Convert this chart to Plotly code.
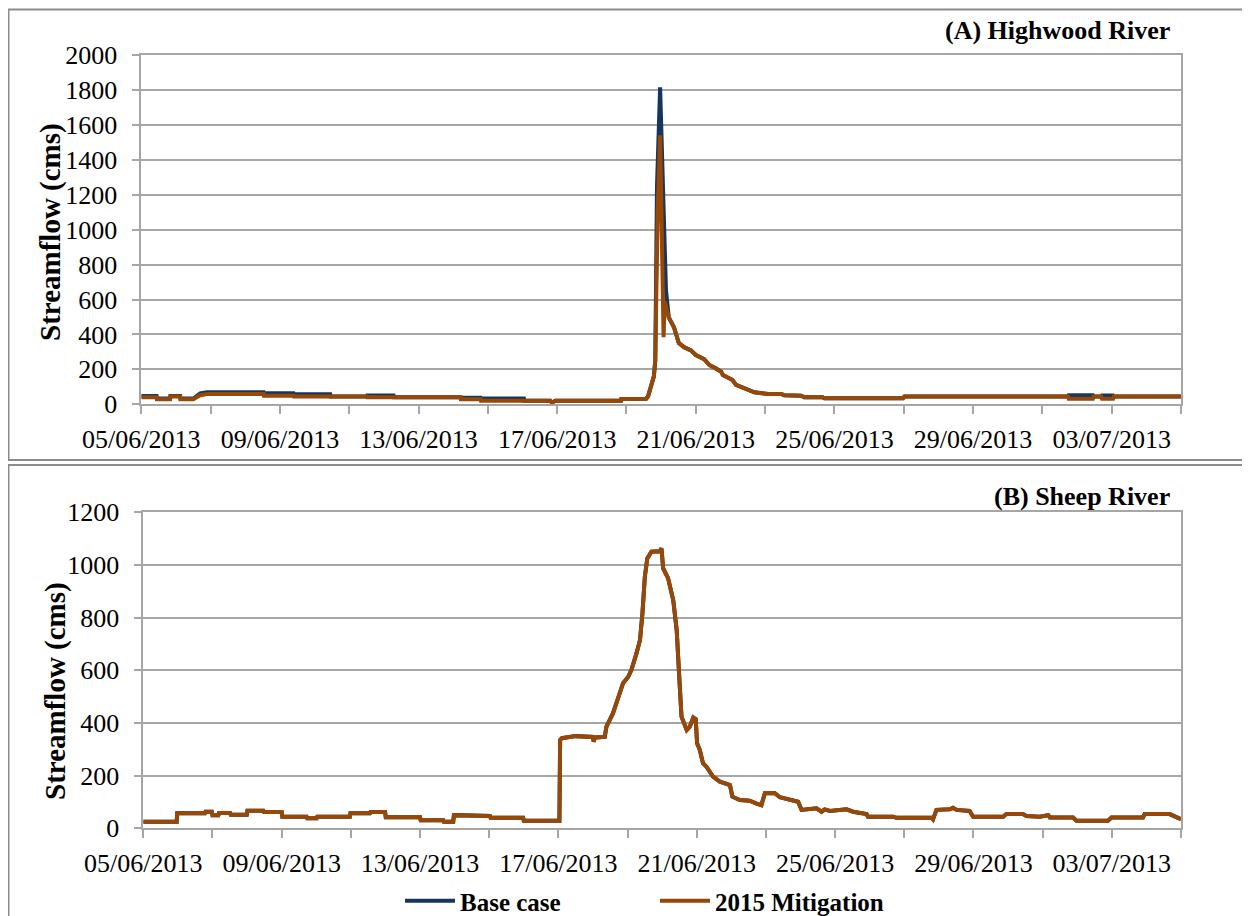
import pandas as pd
import plotly.graph_objects as go

START = pd.Timestamp("2013-06-05")
DAY_MS = 86400000

# (A) Highwood River - days since 05/06/2013 00:00 and streamflow (cms)
hw_base_days = [0, 0.44, 0.45, 0.83, 0.84, 1.12, 1.13, 1.5, 1.7, 1.89, 3.53, 3.54, 4.39, 4.4, 5.45, 5.46,
                6.51, 6.52, 7.28, 7.29, 9.21, 9.22, 9.79, 9.8, 11.04, 11.05, 11.8, 11.85, 11.95, 13.84, 13.85,
                14.56, 14.62, 14.7, 14.79, 14.83, 14.88, 14.97, 15.14, 15.22, 15.37, 15.51, 15.66, 15.86,
                16.0, 16.24, 16.39, 16.58, 16.73, 16.78, 17.06, 17.16, 17.4, 17.69, 18.08, 18.46, 18.55,
                19.04, 19.13, 19.66, 19.71, 21.98, 22.02, 26.74, 26.76, 27.46, 27.48, 27.7, 27.72, 28.04,
                28.06, 30.0]
hw_base = [47, 47, 33, 33, 48, 48, 33, 33, 62, 69, 69, 63, 63, 57, 57, 44,
           44, 50, 50, 40, 40, 38, 38, 33, 33, 21, 21, 9, 21, 21, 30,
           30, 45, 110, 160, 250, 1250, 1815, 650, 498, 441, 350, 327, 309,
           282, 258, 225, 206, 187, 168, 139, 111, 92, 69, 59, 59, 52,
           49, 40, 40, 34, 34, 44, 44, 52, 52, 44, 44, 50, 50,
           44, 44]

hw_mit_days = [0, 0.44, 0.45, 0.83, 0.84, 1.12, 1.13, 1.5, 1.7, 1.89, 3.53, 3.54, 4.39, 4.4, 6.51, 6.52,
               9.21, 9.22, 9.79, 9.8, 11.8, 11.85, 11.95, 13.84, 13.85, 14.56, 14.62, 14.7, 14.79, 14.83,
               14.9, 14.97, 15.05, 15.07, 15.1, 15.14, 15.22, 15.37, 15.51, 15.66, 15.86,
               16.0, 16.24, 16.39, 16.58, 16.73, 16.78, 17.06, 17.16, 17.4, 17.69, 18.08, 18.46, 18.55,
               19.04, 19.13, 19.66, 19.71, 21.98, 22.02, 26.74, 26.76, 27.46, 27.48, 27.7, 27.72, 28.04,
               28.06, 30.0]
hw_mit = [40, 40, 29, 29, 44, 44, 29, 29, 52, 59, 59, 49, 49, 44, 44, 40,
          40, 29, 29, 21, 21, 9, 21, 21, 30, 30, 45, 110, 160, 250,
          1100, 1540, 650, 384, 590, 560, 498, 441, 350, 327, 309,
          282, 258, 225, 206, 187, 168, 139, 111, 92, 69, 59, 59, 52,
          49, 40, 40, 34, 34, 44, 44, 32, 32, 44, 44, 32, 32,
          44, 44]

# (B) Sheep River - base case and 2015 mitigation coincide
sh_days = [0, 0.965, 0.98, 1.78, 1.8, 1.98, 2.0, 2.17, 2.19, 2.51, 2.53, 2.99, 3.01, 3.47, 3.49, 4.0,
           4.02, 4.72, 4.74, 5.01, 5.03, 5.97, 5.99, 6.55, 6.57, 6.99, 7.01, 8.0, 8.02, 8.67, 8.69,
           8.96, 8.98, 9.73, 9.75, 10.02, 10.04, 10.98, 11.0, 12.03, 12.05, 12.1, 12.5, 13.0, 13.02,
           13.06, 13.34, 13.39, 13.58, 13.78, 13.87, 14.02, 14.11, 14.26, 14.36, 14.43, 14.5, 14.57,
           14.69, 14.93, 14.98, 15.03, 15.17, 15.32, 15.42, 15.51, 15.56, 15.71, 15.8, 15.9, 15.97,
           16.01, 16.09, 16.18, 16.28, 16.47, 16.67, 16.96, 17.03, 17.25, 17.53, 17.73, 17.87, 17.97,
           18.26, 18.4, 18.69, 18.93, 19.03, 19.27, 19.46, 19.61, 19.7, 19.85, 20.23, 20.33, 20.52,
           20.91, 20.95, 21.68, 21.77, 22.79, 22.83, 22.93, 23.32, 23.41, 23.51, 23.89, 23.99, 24.86,
           24.95, 25.43, 25.53, 25.92, 26.16, 26.21, 26.88, 26.98, 27.89, 27.99, 28.9, 28.95, 29.67,
           29.77, 30.0]
sh_mit = [25, 25, 57, 57, 63, 63, 50, 50, 58, 58, 51, 51, 67, 67, 62, 62,
          44, 44, 38, 38, 44, 44, 57, 57, 62, 62, 42, 42, 31, 31, 25,
          25, 50, 50, 47, 47, 40, 40, 29, 29, 335, 342, 350, 347, 329,
          345, 347, 386, 437, 513, 551, 576, 601, 665, 715, 817, 955, 1025,
          1050, 1052, 1063, 987, 950, 867, 753, 538, 424, 373, 386, 421, 415,
          323, 297, 247, 234, 196, 177, 164, 120, 107, 105, 94, 88, 133,
          133, 118, 107, 101, 70, 73, 76, 63, 72, 66, 68, 72, 63,
          54, 44, 44, 40, 40, 34, 70, 72, 78, 70, 66, 44, 44,
          54, 54, 47, 44, 50, 41, 41, 29, 29, 41, 41, 54, 54,
          47, 35]
sh_base = list(sh_mit)

series_names = ["Base case", "2015 Mitigation"]
y_ticks_a = list(range(0, 2001, 200))
y_ticks_b = list(range(0, 1201, 200))
x_start = "2013-06-05"
x_end = "2013-07-05"

BLUE = "#17365D"
ORANGE = "#974706"
GRID = "#a6a6a6"
FRAME = "#8c8c8c"
FONT = "Liberation Serif, Times New Roman, DejaVu Serif, serif"

# the page body adds an 8 px margin; the figure starts at window position (8, 8)
OFF = 8
W, H = 1242, 916


def px(xs):
    return (xs - OFF) / W


def py(ys):
    return 1 - (ys - OFF) / H


def to_dates(days):
    return START + pd.to_timedelta(days, unit="D")


fig = go.Figure()
fig.add_trace(go.Scatter(x=to_dates(hw_base_days), y=hw_base, mode="lines", name=series_names[0],
                         line=dict(color=BLUE, width=4), xaxis="x", yaxis="y"))
fig.add_trace(go.Scatter(x=to_dates(hw_mit_days), y=hw_mit, mode="lines", name=series_names[1],
                         line=dict(color=ORANGE, width=4), xaxis="x", yaxis="y"))
fig.add_trace(go.Scatter(x=to_dates(sh_days), y=sh_base, mode="lines", name=series_names[0],
                         line=dict(color=BLUE, width=4), xaxis="x2", yaxis="y2", showlegend=False))
fig.add_trace(go.Scatter(x=to_dates(sh_days), y=sh_mit, mode="lines", name=series_names[1],
                         line=dict(color=ORANGE, width=4), xaxis="x2", yaxis="y2", showlegend=False))

tickfont = dict(family=FONT, size=26, color="#000000")
boldfont = dict(family=FONT, size=26, color="#000000", weight="bold")
ytitlefont = dict(family=FONT, size=29, color="#000000", weight="bold")


def xaxis_cfg(domain, anchor):
    return dict(domain=domain, anchor=anchor, type="date", range=[x_start, x_end],
                tick0=x_start, dtick=4 * DAY_MS, tickformat="%d/%m/%Y",
                ticks="outside", ticklen=8, tickwidth=1.5, tickcolor=GRID,
                showline=True, linecolor=GRID, linewidth=1.5, mirror=True,
                showgrid=False, zeroline=False, tickfont=tickfont, automargin=False,
                ticklabelstandoff=3,
                minor=dict(tick0=x_start, dtick=2 * DAY_MS, ticks="outside", ticklen=8,
                           tickwidth=1.5, tickcolor=GRID, showgrid=False))


def yaxis_cfg(domain, anchor, rng, vals):
    return dict(domain=domain, anchor=anchor, range=rng, tickvals=vals,
                ticks="outside", ticklen=8, tickwidth=1.5, tickcolor=GRID,
                showline=True, linecolor=GRID, linewidth=1.5, mirror=True,
                showgrid=True, gridcolor=GRID, gridwidth=1.5, zeroline=False,
                tickfont=tickfont, automargin=False, ticklabelstandoff=9)


fig.update_layout(
    width=W, height=H,
    margin=dict(l=0, r=0, t=0, b=0),
    paper_bgcolor="white", plot_bgcolor="white",
    xaxis=xaxis_cfg([px(141.3), px(1181)], "y"),
    yaxis=yaxis_cfg([py(404.3), py(55)], "x", [0, 2000], y_ticks_a),
    xaxis2=xaxis_cfg([px(143.3), px(1181)], "y2"),
    yaxis2=yaxis_cfg([py(828.3), py(512.3)], "x2", [0, 1200], y_ticks_b),
    showlegend=True,
    legend=dict(orientation="h", x=px(400), y=0, xanchor="left", yanchor="bottom",
                font=dict(family=FONT, size=25, color="#000000", weight="bold"),
                entrywidth=190, itemwidth=50, bgcolor="rgba(0,0,0,0)"),
    annotations=[
        dict(text="(A) Highwood River", x=px(1172), y=py(30), xref="paper", yref="paper",
             xanchor="right", yanchor="middle", showarrow=False, font=boldfont),
        dict(text="(B) Sheep River", x=px(1172), y=py(496), xref="paper", yref="paper",
             xanchor="right", yanchor="middle", showarrow=False, font=boldfont),
        dict(text="Streamflow (cms)", x=px(50), y=py(232), xref="paper", yref="paper",
             xanchor="center", yanchor="middle", showarrow=False, textangle=-90, font=ytitlefont),
        dict(text="Streamflow (cms)", x=px(55), y=py(691), xref="paper", yref="paper",
             xanchor="center", yanchor="middle", showarrow=False, textangle=-90, font=ytitlefont),
    ],
    shapes=[
        dict(type="rect", xref="paper", yref="paper", x0=px(8.5), x1=1.02, y0=py(460), y1=py(9.5),
             line=dict(color=FRAME, width=2), fillcolor="rgba(0,0,0,0)", layer="below"),
        dict(type="rect", xref="paper", yref="paper", x0=px(8.5), x1=1.02, y0=-0.05, y1=py(465),
             line=dict(color=FRAME, width=2), fillcolor="rgba(0,0,0,0)", layer="below"),
    ],
)

fig.write_html("out.html")
